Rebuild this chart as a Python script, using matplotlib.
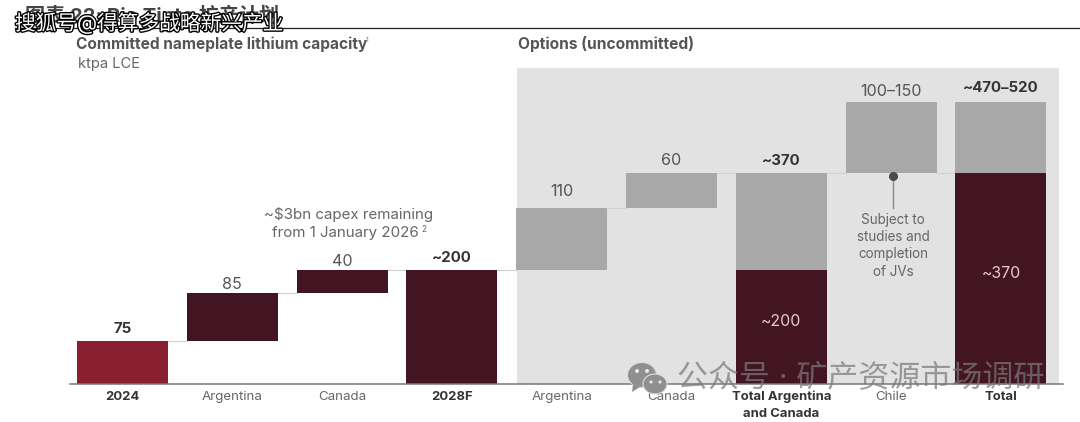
import matplotlib
matplotlib.use("Agg")
import matplotlib.pyplot as plt
import matplotlib.patheffects as pe
from matplotlib.patches import Ellipse, Polygon, Rectangle

plt.rcParams['font.family'] = ['Inter', 'Noto Sans CJK SC', 'DejaVu Sans']

# Waterfall data, ktpa LCE
categories = ['2024', 'Argentina', 'Canada', '2028F', 'Argentina', 'Canada',
              'Total Argentina\nand Canada', 'Chile', 'Total']
bold_category = [True, False, False, True, False, False, True, False, True]
bottoms = [0, 75, 160, 0, 200, 310, 200, 370, 370]
heights = [75, 85, 40, 200, 110, 60, 170, 125, 125]
base_bottoms = [0, 0]          # dark base of the two stacked totals
base_heights = [200, 370]
base_positions = [6, 8]
bar_colors = ['#8a1f31', '#431421', '#431421', '#431421', '#a8a8a8', '#a8a8a8',
              '#a8a8a8', '#a8a8a8', '#a8a8a8']
value_labels = ['75', '85', '40', '~200', '110', '60', '~370', '100–150', '~470–520']
bold_value = [True, False, False, True, False, False, True, False, True]
label_gaps = [4, 1, 1, 4, 6, 4, 4, 2.5, 5.5]
inner_labels = ['~200', '~370']
inner_levels = [110, 195]

W, H = 1080, 422
fig = plt.figure(figsize=(W / 100, H / 100), dpi=100, facecolor='white')
px_per_unit = 0.569
spacing = 109.8
x0 = 122.5
ax_left, ax_right, ax_bottom, ax_top = 70, 1056, 384, 30
ax = fig.add_axes([ax_left / W, 1 - ax_bottom / H, (ax_right - ax_left) / W,
                   (ax_bottom - ax_top) / H])
ax.set_xlim((ax_left - x0) / spacing, (ax_right - x0) / spacing)
ax.set_ylim(0, (ax_bottom - ax_top) / px_per_unit)
ax.patch.set_visible(False)
ax.axis('off')
bar_w = 0.83
positions = list(range(len(categories)))


def fx(px):
    return px / W


def fy(py):
    return 1 - py / H


# Grey backdrop behind the uncommitted options
fig.add_artist(Rectangle((fx(517), fy(384)), 542 / W, 316 / H, transform=fig.transFigure,
                         facecolor='#e3e2e2', edgecolor='none', zorder=0))

ax.bar(positions, heights, bar_w, bottom=bottoms, color=bar_colors, zorder=3)
ax.bar(base_positions, base_heights, bar_w, bottom=base_bottoms, color='#431421', zorder=3)

# Thin connectors between consecutive steps
for i in range(len(positions) - 1):
    level = 370 if i in (6, 7) else bottoms[i] + heights[i]
    ax.plot([i + bar_w / 2, i + 1 - bar_w / 2], [level, level], color='#d2d0d0', lw=0.8, zorder=2)

# Baseline
ax.plot([(ax_left - x0) / spacing, (1063 - x0) / spacing], [0, 0], color='#777777',
        lw=1.1, zorder=4, clip_on=False)

for i, lab in enumerate(value_labels):
    ax.annotate(lab, (i, bottoms[i] + heights[i]), xytext=(0, label_gaps[i]),
                textcoords='offset points', ha='center', va='bottom',
                fontsize=10.8 if bold_value[i] else 11.6,
                fontweight='bold' if bold_value[i] else 'normal',
                color='#333333' if bold_value[i] else '#555555', zorder=5)

for pos, level, lab in zip(base_positions, inner_levels, inner_labels):
    ax.text(pos, level, lab, ha='center', va='center',
            fontsize=11.4, color='#e8c9cf', zorder=5)

for i, lab in enumerate(categories):
    ax.annotate(lab, (i, 0), xytext=(0, -5), textcoords='offset points', ha='center', va='top',
                fontsize=9.6 if not bold_category[i] else 9.4, linespacing=1.5,
                fontweight='bold' if bold_category[i] else 'normal',
                color='#333333' if bold_category[i] else '#666666', zorder=5)

# Headings
fig.text(fx(76), fy(44), 'Committed nameplate lithium capacity', fontsize=11.1, fontweight='bold',
         color='#555555', va='center')
fig.text(fx(366), fy(40), '1', fontsize=5, color='#777777', va='center')
fig.text(fx(78), fy(64), 'ktpa LCE', fontsize=10.6, color='#666666', va='center')
fig.text(fx(518), fy(44), 'Options (uncommitted)', fontsize=11.2, fontweight='bold',
         color='#555555', va='center')

# Capex note
fig.text(fx(349), fy(214), '~$3bn capex remaining', fontsize=10.9, color='#666666',
         ha='center', va='center')
fig.text(fx(345), fy(233), 'from 1 January 2026', fontsize=10.9, color='#666666',
         ha='center', va='center')
fig.text(fx(421), fy(229), '2', fontsize=6, color='#666666', va='center')

# Chile callout
ax.plot([7.02, 7.02], [310, 365], color='#8a8a8a', lw=1, zorder=5)
ax.plot([7.02], [365], 'o', color='#4a4a4a', ms=5.5, zorder=6)
ax.text(7.02, 243, 'Subject to\nstudies and\ncompletion\nof JVs', ha='center', va='center',
        fontsize=9.7, linespacing=1.3, color='#666666', zorder=5)

# Header rule and the obscured figure title
fig.add_artist(plt.Line2D([fx(15), 1], [fy(28), fy(28)], color='#222222', lw=0.9))
fig.text(fx(25), fy(16), '图表 22: Rio Tinto 扩产计划', fontsize=14.5, fontweight='bold',
         color='#444444', va='center', zorder=6)

# Account stamp at the top left
stamp = fig.text(fx(15), fy(23), '搜狐号@得算多战略新兴产业', fontsize=14.9, color='white',
                 va='center', zorder=7)
stamp.set_path_effects([pe.withStroke(linewidth=2.0, foreground='black')])

# WeChat mark and account name across the bottom
wm = '#8f8f8f'
for (cx, cy, w, h) in [(642, 375, 29, 25), (655, 384, 24, 20)]:
    fig.add_artist(Ellipse((fx(cx), fy(cy)), w / W, h / H, transform=fig.transFigure,
                           facecolor=wm, edgecolor='#dddddd', lw=0.8, zorder=8))
for (cx, cy, r) in [(637, 371, 2), (647, 371, 2), (651, 382, 1.6), (660, 382, 1.6)]:
    fig.add_artist(Ellipse((fx(cx), fy(cy)), 2 * r / W, 2 * r / H, transform=fig.transFigure,
                           facecolor='#e8e8e8', edgecolor='none', zorder=9))
fig.add_artist(Polygon([(fx(633), fy(384)), (fx(632), fy(392)), (fx(640), fy(387))],
                       transform=fig.transFigure, facecolor=wm, edgecolor='none', zorder=8))
fig.text(fx(677), fy(378), '公众号 · 矿产资源市场调研', fontsize=22.3, color='#7a7a7a', alpha=0.72,
         va='center', zorder=8)

fig.savefig('out.png', dpi=100)
